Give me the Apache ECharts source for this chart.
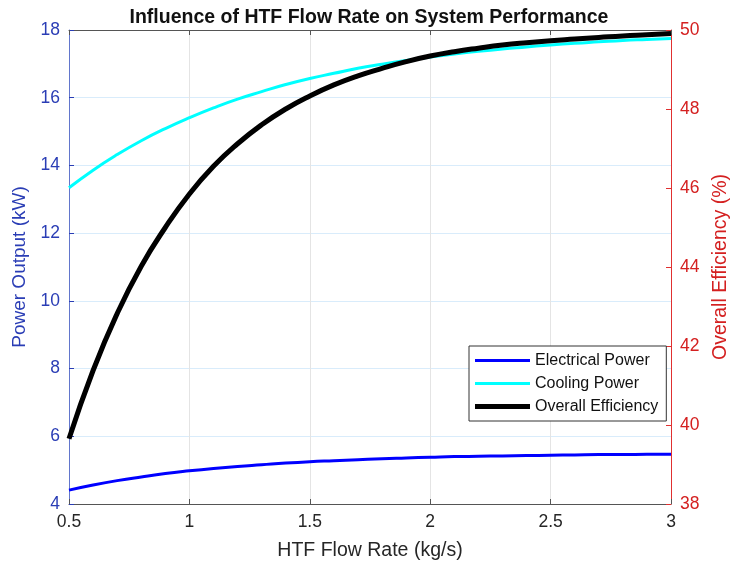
<!DOCTYPE html>
<html>
<head>
<meta charset="utf-8">
<script src="https://cdn.jsdelivr.net/npm/echarts@6/dist/echarts.min.js"></script>
<style>html,body{margin:0;padding:0;background:#fff;overflow:hidden}#c{width:732px;height:567px}</style>
</head>
<body>
<div id="c"></div>
<script>
const flowRate = [0.5,0.6,0.7,0.8,0.9,1.0,1.1,1.2,1.3,1.4,1.5,1.6,1.7,1.8,1.9,2.0,2.1,2.2,2.3,2.4,2.5,2.6,2.7,2.8,2.9,3.0];
const electricalPower = [4.41,4.56,4.69,4.80,4.90,4.98,5.05,5.11,5.16,5.21,5.25,5.28,5.31,5.34,5.36,5.38,5.40,5.41,5.42,5.43,5.44,5.45,5.46,5.46,5.47,5.47];
const coolingPower = [13.34,13.86,14.32,14.73,15.09,15.41,15.70,15.96,16.18,16.39,16.57,16.72,16.87,16.99,17.10,17.20,17.29,17.37,17.44,17.50,17.56,17.61,17.65,17.69,17.72,17.75];
const overallEfficiency = [39.65,41.38,42.82,44.02,45.00,45.85,46.55,47.12,47.60,48.00,48.33,48.61,48.84,49.03,49.20,49.34,49.45,49.54,49.62,49.68,49.73,49.77,49.81,49.85,49.88,49.91];
const xTicks = {min:0.5, max:3, interval:0.5};
const leftTicks = {min:4, max:18, interval:2};
const rightTicks = {min:38, max:50, interval:2};

const pairs = ys => flowRate.map((x,i)=>[x, ys[i]]);
const FONT = 'Liberation Sans, Arial, sans-serif';
const chart = echarts.init(document.getElementById('c'), null, {renderer:'canvas'});
chart.setOption({
  animation:false,
  backgroundColor:'#ffffff',
  title:{text:'Influence of HTF Flow Rate on System Performance', left:364, textAlign:'center', top:3,
    textStyle:{fontFamily:FONT, fontWeight:'bold', fontSize:19.5, color:'#111'}},
  grid:{left:69, right:61, top:30, bottom:63, containLabel:false, outerBoundsMode:'none'},
  legend:{
    left:469, top:346, orient:'vertical', padding:[6,8,6,6], itemGap:6,
    backgroundColor:'#fff', borderColor:'#333', borderWidth:1, borderRadius:0,
    itemWidth:55, itemHeight:6,
    textStyle:{fontFamily:FONT, fontSize:16, color:'#111', lineHeight:17},
    data:[
      {name:'Electrical Power', icon:'path://M0,0H55V3H0Z'},
      {name:'Cooling Power', icon:'path://M0,0H55V3H0Z'},
      {name:'Overall Efficiency', icon:'path://M0,0H55V5H0Z'}
    ]
  },
  xAxis:[{
    type:'value', min:xTicks.min, max:xTicks.max, interval:xTicks.interval, position:'bottom',
    name:'HTF Flow Rate (kg/s)', nameLocation:'middle', nameGap:37,
    nameTextStyle:{fontFamily:FONT, fontSize:19.5, color:'#262626'},
    axisLine:{show:true, lineStyle:{color:'#555', width:1}},
    axisTick:{show:true, inside:true, length:5, lineStyle:{color:'#555'}},
    axisLabel:{fontFamily:FONT, fontSize:17.5, color:'#262626', margin:9},
    splitLine:{show:true, lineStyle:{color:'#e4e4e4', width:1}}
  },{
    type:'value', min:xTicks.min, max:xTicks.max, interval:xTicks.interval, position:'top',
    axisLine:{show:true, lineStyle:{color:'#555', width:1}},
    axisTick:{show:true, inside:true, length:5, lineStyle:{color:'#555'}},
    axisLabel:{show:false}, splitLine:{show:false}
  }],
  yAxis:[{
    type:'value', min:leftTicks.min, max:leftTicks.max, interval:leftTicks.interval, position:'left',
    name:'Power Output (kW)', nameLocation:'middle', nameGap:32, nameRotate:90,
    nameTextStyle:{fontFamily:FONT, fontSize:19, color:'#2a3db5'},
    axisLine:{show:true, lineStyle:{color:'#6276cc', width:1}},
    axisTick:{show:true, inside:true, length:5, lineStyle:{color:'#2a3db5'}},
    axisLabel:{fontFamily:FONT, fontSize:17.5, color:'#2a3db5', margin:9},
    splitLine:{show:true, lineStyle:{color:'#d9ecfb', width:1}}
  },{
    type:'value', min:rightTicks.min, max:rightTicks.max, interval:rightTicks.interval, position:'right',
    name:'Overall Efficiency (%)', nameLocation:'middle', nameGap:37, nameRotate:90,
    nameTextStyle:{fontFamily:FONT, fontSize:19.5, color:'#d42020'},
    axisLine:{show:true, lineStyle:{color:'#e03030', width:1}},
    axisTick:{show:true, inside:true, length:5, lineStyle:{color:'#e03030'}},
    axisLabel:{fontFamily:FONT, fontSize:17.5, color:'#d42020', margin:9},
    splitLine:{show:false}
  }],
  series:[
    {name:'Electrical Power', type:'line', yAxisIndex:0, data:pairs(electricalPower), smooth:true, symbol:'none',
      lineStyle:{color:'#0000ff', width:3}, itemStyle:{color:'#0000ff'}, z:3},
    {name:'Cooling Power', type:'line', yAxisIndex:0, data:pairs(coolingPower), smooth:true, symbol:'none',
      lineStyle:{color:'#00ffff', width:3}, itemStyle:{color:'#00ffff'}, z:3},
    {name:'Overall Efficiency', type:'line', yAxisIndex:1, data:pairs(overallEfficiency), smooth:true, symbol:'none',
      lineStyle:{color:'#000000', width:5}, itemStyle:{color:'#000000'}, z:4}
  ]
});
</script>
</body>
</html>
